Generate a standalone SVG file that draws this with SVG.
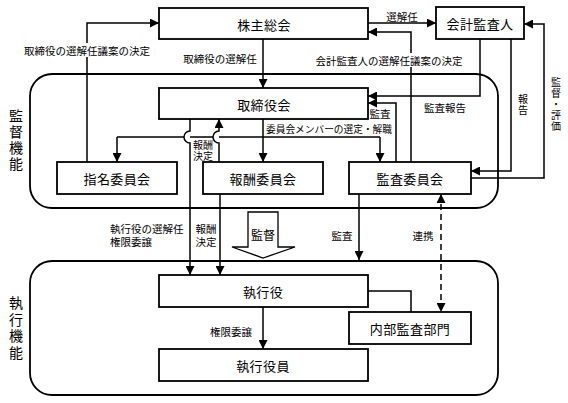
<svg xmlns="http://www.w3.org/2000/svg" width="568" height="403" viewBox="0 0 568 403">
<style>
text{font-family:"Noto Sans CJK JP","Noto Sans",sans-serif;fill:#000;dominant-baseline:central}
.box{fill:#fff;stroke:#000;stroke-width:1.8}
.area{fill:none;stroke:#000;stroke-width:1.8}
.ln{fill:none;stroke:#000;stroke-width:1.5}
.arr{marker-end:url(#ah)}
.dash{stroke-dasharray:6 4}
.nl{font-size:13px;text-anchor:middle;letter-spacing:0.4px}
.sl{font-size:10.5px}
.vl{font-size:10px;text-anchor:middle}
.vt{writing-mode:vertical-rl;text-orientation:upright;text-anchor:middle}
</style>
<defs>
<marker id="ah" markerUnits="userSpaceOnUse" markerWidth="10" markerHeight="9" refX="9" refY="4.5" orient="auto-start-reverse">
<path d="M0,0 L9,4.5 L0,9 z" fill="#000"/>
</marker>
</defs>

<g id="areas">
<rect class="area" x="30" y="74" width="468" height="134" rx="22"/>
<rect class="area" x="30" y="261" width="468" height="134" rx="22"/>
<text class="vt" x="16" y="141" font-size="14" letter-spacing="2">監督機能</text>
<text class="vt" x="16" y="329" font-size="14" letter-spacing="2.7">執行機能</text>
</g>

<g id="connectors">
<path class="ln arr" d="M87,162 V23 H159"/>
<path class="ln arr" d="M263,39 V88"/>
<path class="ln arr" d="M368,23 H436"/>
<path class="ln arr" d="M411,162 V32 H368"/>
<path class="ln arr" d="M480,39 V96 H368"/>
<path class="ln arr" d="M396,162 V103 H368"/>
<path class="ln arr" d="M263,119 V162"/>
<path class="ln" d="M117,137 H184 M190,137 H213 M219,137 H380"/>
<path class="ln arr" d="M117,137 V162"/>
<path class="ln arr" d="M380,137 V162"/>
<path class="ln arr" d="M190,119 V131 A6,6 0 0 0 190,143 V275"/>
<path class="ln arr" d="M219,162 V143 A6,6 0 0 1 219,131 V119"/>
<path class="ln arr" d="M220,194 V275"/>
<path class="ln arr" d="M511,39 V171 H471"/>
<path class="ln arr" d="M471,178 H544 V24 H524"/>
<path class="ln arr" d="M359,194 V260"/>
<path class="ln dash" d="M441,194 V312" marker-start="url(#ah)" marker-end="url(#ah)"/>
<path class="ln arr" d="M263,307 V349"/>
<path class="ln" d="M368,291 H411 V312"/>
<polygon points="248,212 278,212 278,247 295,247 263,258 232,247 248,247" fill="#fff" stroke="#000" stroke-width="1.3"/>

<rect x="20" y="43" width="134" height="14" fill="#fff"/>
<text class="sl" x="87" y="50" text-anchor="middle">取締役の選解任議案の決定</text>
<text class="sl" x="220" y="58" text-anchor="middle">取締役の選解任</text>
<text class="sl" x="402" y="16" text-anchor="middle">選解任</text>
<rect x="312" y="53" width="155" height="14" fill="#fff"/>
<text class="sl" x="389" y="60" text-anchor="middle">会計監査人の選解任議案の決定</text>
<text class="sl" x="445" y="107" text-anchor="middle">監査報告</text>
<text class="sl" x="380" y="113" text-anchor="middle">監査</text>
<text x="329" y="129" text-anchor="middle" font-size="9.7">委員会メンバーの選定・解職</text>
<text class="vl" x="203"><tspan x="203" y="144">報酬</tspan><tspan x="203" y="155">決定</tspan></text>
<text class="sl" x="110"><tspan x="110" y="228">執行役の選解任</tspan><tspan x="110" y="241">権限委譲</tspan></text>
<text class="sl" x="206" text-anchor="middle"><tspan x="206" y="228">報酬</tspan><tspan x="206" y="241">決定</tspan></text>
<text x="263" y="234" text-anchor="middle" font-size="12">監督</text>
<text class="sl" x="342" y="235" text-anchor="middle">監査</text>
<text class="sl" x="423" y="235" text-anchor="middle">連携</text>
<text class="sl" x="231" y="331" text-anchor="middle">権限委譲</text>
<text class="vt" x="523" y="105" font-size="10" letter-spacing="1">報告</text>
<text class="vt" x="556" y="105" font-size="10" letter-spacing="1">監督・評価</text>
</g>

<g id="kabunushi"><rect class="box" x="159" y="8" width="209" height="31"/><text class="nl" x="264" y="24">株主総会</text></g>
<g id="kaikei"><rect class="box" x="436" y="7" width="88" height="32"/><text class="nl" x="480" y="23">会計監査人</text></g>
<g id="torishimari"><rect class="box" x="159" y="88" width="209" height="31"/><text class="nl" x="264" y="104">取締役会</text></g>
<g id="shimei"><rect class="box" x="57" y="162" width="120" height="32"/><text class="nl" x="117" y="178">指名委員会</text></g>
<g id="hoshu"><rect class="box" x="203" y="162" width="120" height="32"/><text class="nl" x="263" y="178">報酬委員会</text></g>
<g id="kansa"><rect class="box" x="349" y="162" width="122" height="32"/><text class="nl" x="410" y="178">監査委員会</text></g>
<g id="shikkoyaku"><rect class="box" x="159" y="275" width="209" height="32"/><text class="nl" x="263" y="291">執行役</text></g>
<g id="naibu"><rect class="box" x="349" y="312" width="122" height="32"/><text class="nl" x="410" y="328">内部監査部門</text></g>
<g id="shikkoyakuin"><rect class="box" x="159" y="349" width="209" height="32"/><text class="nl" x="263" y="365">執行役員</text></g>
</svg>
